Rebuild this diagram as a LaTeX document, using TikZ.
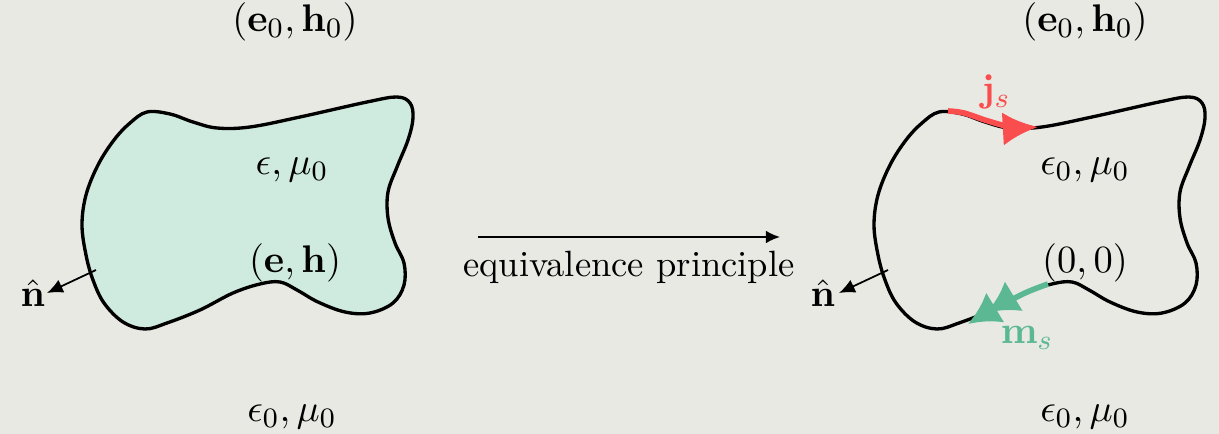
\documentclass[tikz,border=0pt]{standalone}
\usetikzlibrary{arrows.meta}
\definecolor{bg}{RGB}{233,233,228}
\definecolor{mint}{RGB}{207,234,222}
\definecolor{jred}{RGB}{250,78,78}
\definecolor{mgreen}{RGB}{92,184,146}
\begin{document}
\begin{tikzpicture}[x=0.01cm,y=-0.01cm,
  lbl/.style={font=\fontsize{11.3}{13}\selectfont},
  outline/.style={line width=0.95pt,black},
  normalarrow/.style={line width=0.5pt,-{Latex[length=4.5pt,width=4pt]}},
  mainarrow/.style={line width=0.5pt,-{Latex[length=4pt,width=3.6pt]}}]
\fill[bg] (0,0) rectangle (1219,434);
\useasboundingbox (0,0) rectangle (1219,434);
\def\blobpts{(147,112) (170,114) (193,122) (217,128) (250,127) (300,117) (367,102) (397,97) (410,103) (413,118) (408,140) (397,167) (388,192) (388,218) (395,243) (404,263) (404,285) (393,303) (370,313) (345,312) (318,302) (297,290) (280,282) (260,284) (233,293) (200,310) (167,323) (145,329) (123,322) (104,303) (93,280) (86,255) (82,225) (86,195) (98,165) (114,140) (130,123)}
% left blob
\draw[outline,fill=mint] plot[smooth cycle,tension=0.6] coordinates {\blobpts};
\coordinate (nl) at (96,270);
\coordinate (nlt) at (47,293);
\node[lbl] (nhatl) at (33,293) {$\hat{\mathbf{n}}$};
\draw[normalarrow] (nl) -- (nlt);
\node[lbl] (e0l) at (295,22) {$(\mathbf{e}_0,\mathbf{h}_0)$};
\node[lbl] (epsl) at (292,170) {$\epsilon,\mu_0$};
\node[lbl] (ehl) at (295,263) {$(\mathbf{e},\mathbf{h})$};
\node[lbl] (outl) at (292,417) {$\epsilon_0,\mu_0$};
% main arrow
\coordinate (a1) at (478,237);
\coordinate (a2) at (780,237);
\draw[mainarrow] (a1) -- (a2);
\node[font=\fontsize{10.4}{12}\selectfont] (eqp) at (629,267) {equivalence principle};
% right blob
\begin{scope}[shift={(792,0)}]
\draw[outline] plot[smooth cycle,tension=0.6] coordinates {\blobpts};
\draw[jred,line width=1.6pt,-{Latex[length=10pt,width=9.5pt]}] plot[smooth,tension=0.6] coordinates {(156,111) (172,113) (196,121) (220,127) (246,127)};
\draw[mgreen,line width=1.6pt,-{Latex[length=9pt,width=10pt,sep=-2.8pt]Latex[length=9pt,width=10pt]}] plot[smooth,tension=0.55] coordinates {(256,284) (233,293) (200,310) (176,324)};
\end{scope}
\coordinate (nr) at (888,270);
\coordinate (nrt) at (839,293);
\node[lbl] (nhatr) at (823,293) {$\hat{\mathbf{n}}$};
\draw[normalarrow] (nr) -- (nrt);
\node[lbl] (e0r) at (1085,22) {$(\mathbf{e}_0,\mathbf{h}_0)$};
\node[lbl] (epsr) at (1085,170) {$\epsilon_0,\mu_0$};
\node[lbl] (zr) at (1085,263) {$(0,0)$};
\node[lbl] (outr) at (1085,417) {$\epsilon_0,\mu_0$};
\node[lbl,text=jred] (js) at (996,92) {$\mathbf{j}_s$};
\node[lbl,text=mgreen] (ms) at (1027,338) {$\mathbf{m}_s$};
\end{tikzpicture}
\end{document}
